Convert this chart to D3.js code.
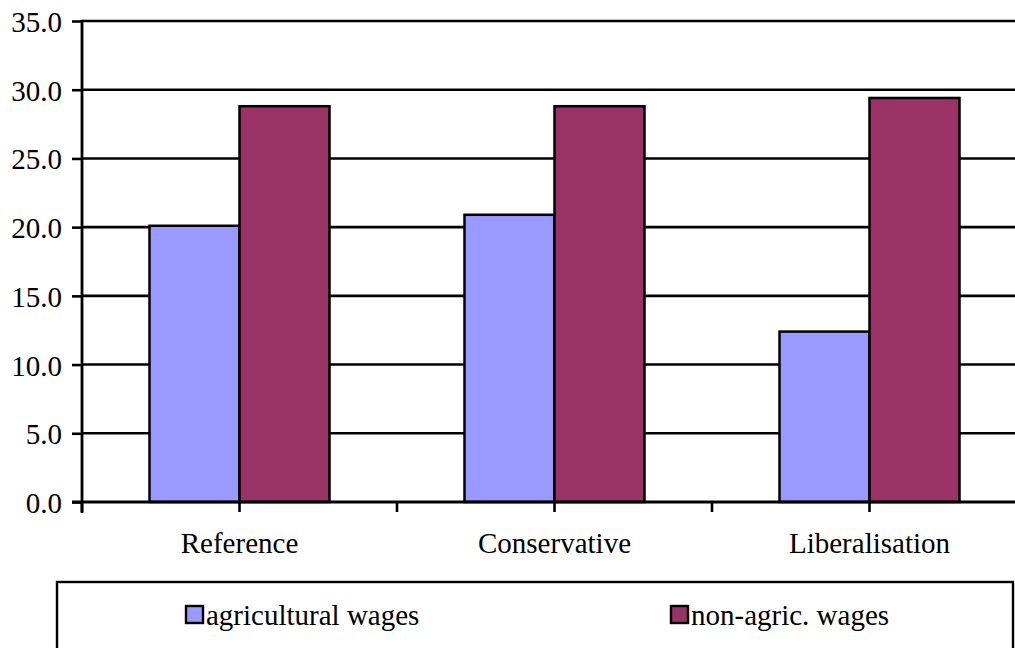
<!DOCTYPE html>
<html>
<head>
<meta charset="utf-8">
<script src="https://cdn.jsdelivr.net/npm/d3@7"></script>
<style>
  html, body { margin: 0; padding: 0; background: #fff; }
  svg { display: block; overflow: hidden; }
</style>
</head>
<body>
<svg id="chart" width="1015" height="648"></svg>
<script>
// Scenario results: wages by sector
const categories = ["Reference", "Conservative", "Liberalisation"];
const seriesNames = ["agricultural wages", "non-agric. wages"];
const agriculturalWages = [20.1, 20.9, 12.4];
const nonAgricWages = [28.8, 28.8, 29.4];
const yTicks = [0, 5, 10, 15, 20, 25, 30, 35];
const colors = ["#9999FF", "#993366"];

const FONT = "'Liberation Serif', 'Times New Roman', serif";
const FONT_SIZE = "29px";

const svg = d3.select("#chart");
const plotLeft = 82, plotTop = 21, plotBottom = 502;
const bandW = 315;
const plotRight = plotLeft + bandW * categories.length;

const x = d3.scaleBand().domain(categories).range([plotLeft, plotRight]).paddingInner(0).paddingOuter(0);
const xSub = d3.scaleBand().domain(seriesNames).range([0, 180]);
const y = d3.scaleLinear().domain([0, 35]).range([plotBottom, plotTop]);

// horizontal gridlines
svg.append("g").selectAll("line").data(yTicks.filter(d => d > 0)).join("line")
  .attr("x1", plotLeft).attr("x2", plotRight)
  .attr("y1", d => y(d)).attr("y2", d => y(d))
  .attr("stroke", "#000").attr("stroke-width", 2.6);

// bars
const series = [agriculturalWages, nonAgricWages];
const groups = svg.append("g").selectAll("g").data(categories).join("g")
  .attr("transform", c => `translate(${x(c) + (bandW - 180) / 2},0)`);
groups.selectAll("rect").data((c, i) => seriesNames.map((s, j) => ({ s, v: series[j][i], j })))
  .join("rect")
  .attr("x", d => xSub(d.s))
  .attr("width", xSub.bandwidth())
  .attr("y", d => y(d.v))
  .attr("height", d => plotBottom - y(d.v))
  .attr("fill", d => colors[d.j])
  .attr("stroke", "#000").attr("stroke-width", 2.5);

// y axis
const yAxis = svg.append("g").attr("transform", `translate(${plotLeft},0)`)
  .call(d3.axisLeft(y).tickValues(yTicks).tickFormat(d3.format(".1f")).tickSize(10).tickPadding(10));
yAxis.attr("font-family", FONT).attr("font-size", 29);
yAxis.select(".domain").remove();
yAxis.selectAll(".tick line").attr("stroke", "#000").attr("stroke-width", 2.6);
yAxis.selectAll(".tick text").attr("fill", "#000").attr("dy", "0.36em")
  .style("font-family", FONT).style("font-size", FONT_SIZE);
svg.append("line").attr("x1", plotLeft).attr("x2", plotLeft).attr("y1", plotTop - 1.3).attr("y2", plotBottom + 11)
  .attr("stroke", "#000").attr("stroke-width", 2.8);

// x axis baseline with ticks at band edges and centres
const xTickPos = d3.range(0, categories.length * 2 + 1).map(k => plotLeft + k * bandW / 2);
svg.append("line").attr("x1", plotLeft - 10).attr("x2", plotRight).attr("y1", plotBottom).attr("y2", plotBottom)
  .attr("stroke", "#000").attr("stroke-width", 2.8);
svg.append("g").selectAll("line").data(xTickPos).join("line")
  .attr("x1", d => d).attr("x2", d => d).attr("y1", plotBottom).attr("y2", plotBottom + 10)
  .attr("stroke", "#000").attr("stroke-width", 2.6);

// category labels
svg.append("g").selectAll("text").data(categories).join("text")
  .attr("x", c => x(c) + bandW / 2).attr("y", 553)
  .attr("text-anchor", "middle")
  .style("font-family", FONT).style("font-size", FONT_SIZE).attr("fill", "#000")
  .text(c => c);

// legend
svg.append("rect").attr("x", 57).attr("y", 582).attr("width", 956).attr("height", 100)
  .attr("fill", "#fff").attr("stroke", "#000").attr("stroke-width", 2.4);
const legendX = [186, 671];
const legend = svg.append("g").selectAll("g").data(seriesNames).join("g")
  .attr("transform", (d, i) => `translate(${legendX[i]},606)`);
legend.append("rect").attr("width", 17).attr("height", 17)
  .attr("fill", (d, i) => colors[i]).attr("stroke", "#000").attr("stroke-width", 2.4);
legend.append("text").attr("x", 20).attr("y", 19)
  .style("font-family", FONT).style("font-size", FONT_SIZE).attr("fill", "#000")
  .text(d => d);
</script>
</body>
</html>
